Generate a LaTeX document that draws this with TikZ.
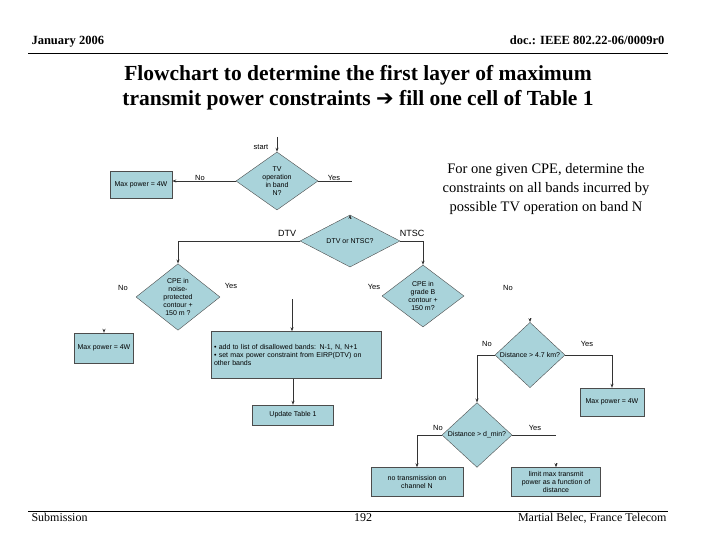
\documentclass[tikz,border=0pt]{standalone}
\usepackage{fontspec}
\setmainfont{Liberation Serif}
\newfontfamily\arial{Liberation Sans}
\newfontfamily\dejavu{DejaVu Sans}
\usetikzlibrary{shapes.geometric,arrows.meta}
\definecolor{fc}{HTML}{A9D3DA}
\tikzset{
  box/.style={draw=black!70,fill=fc,font=\arial\fontsize{7}{8}\selectfont,align=center,inner sep=1pt},
  dia/.style={diamond,draw=black!70,fill=fc,font=\arial\fontsize{7}{8}\selectfont,align=center,inner sep=0pt,aspect=1},
  lbl/.style={font=\arial\fontsize{7.5}{8}\selectfont},
  con/.style={draw=black!80,line width=0.7pt},
  arr/.style={con,-{Stealth[length=4pt,width=3pt]}},
  hd/.style={font=\fontsize{12.5}{14}\selectfont\bfseries}
}
\begin{document}
\begin{tikzpicture}[x=1pt,y=-1pt]
\useasboundingbox (0,0) rectangle (720,540);
% header
\node[hd,anchor=base west] (h1) at (28,45) {January 2006};
\node[hd,anchor=base east] (h2) at (668,45) {doc.: IEEE 802.22-06/0009r0};
\draw[line width=0.6pt] (28,53) -- (668,53);
\node[font=\fontsize{21.5}{25}\selectfont\bfseries,align=center] (title) at (358,88)
  {Flowchart to determine the first layer of maximum\\transmit power constraints {\dejavu\bfseries\fontsize{21}{25}\selectfont ➔} fill one cell of Table 1};
\node[font=\fontsize{14.5}{19}\selectfont,align=center] (note) at (546,189)
  {For one given CPE, determine the\\constraints on all bands incurred by\\possible TV operation on band N};
% footer
\draw[line width=0.6pt] (28,511) -- (668,511);
\node[font=\fontsize{12}{14}\selectfont,anchor=base west] (f1) at (28,521) {Submission};
\node[font=\fontsize{12}{14}\selectfont,anchor=base] (f2) at (363,521) {192};
\node[font=\fontsize{12}{14}\selectfont,anchor=base east] (f3) at (670,521) {Martial Belec, France Telecom};

% flowchart
\node[lbl] (start) at (261,147) {start};
\coordinate (s0) at (277,137);
\node[dia,minimum width=82,minimum height=46] (d1) at (277,181) {TV\\operation\\in band\\N?};
\draw[arr] (s0) -- (d1.north);
\node[box,minimum width=62,minimum height=27] (b1) at (141,185) {Max power = 4W};
\draw[arr] (d1.west) -- (b1.east |- d1.west);
\node[lbl] at (200,178) {No};
\coordinate (y1) at (352,181);
\draw[con] (d1.east) -- (y1);
\node[lbl] at (334,178) {Yes};

\node[dia,minimum width=100,minimum height=36] (d2) at (350,241) {DTV or NTSC?};
\coordinate (d2in) at (350,219);
\draw[arr] (d2in) -- (d2.north);
\node[lbl,font=\arial\fontsize{9}{10}\selectfont] at (287,233) {DTV};
\node[lbl,font=\arial\fontsize{9}{10}\selectfont] at (412,233) {NTSC};

\node[dia,minimum width=84,minimum height=62] (d3) at (178,297) {CPE in\\noise-\\protected\\contour +\\150 m ?};
\node[dia,minimum width=82,minimum height=62] (d4) at (423,296) {CPE in\\grade B\\contour +\\150 m?};
\draw[arr] (d2.west) -- (d3.north |- d2.west) -- (d3.north);
\draw[arr] (d2.east) -- (d4.north |- d2.east) -- (d4.north);
\node[lbl] at (123,288) {No};
\node[lbl] at (231,286) {Yes};
\node[lbl] at (374,287) {Yes};
\node[lbl] at (508,288) {No};

\node[box,minimum width=59,minimum height=30] (b2) at (104,348) {Max power = 4W};
\coordinate (b2in) at (104,330);
\draw[arr] (b2in) -- (b2.north);

\node[box,minimum width=170,minimum height=47,align=left,text width=164] (b3) at (296,355)
  {• add to list of disallowed bands: N-1, N, N+1\\• set max power constraint from EIRP(DTV) on other bands};
\coordinate (b3in) at (292,299);
\draw[arr] (b3in) -- (b3.north -| b3in);
\node[box,minimum width=81,minimum height=20] (b4) at (293,415) {Update Table 1};
\draw[arr] (b3.south -| b4.north) -- (b4.north);

\node[dia,minimum width=70,minimum height=46] (d5) at (530,355) {Distance > 4.7 km?};
\coordinate (d5in) at (530,318);
\draw[arr] (d5in) -- (d5.north);
\node[lbl] at (487,344) {No};
\node[lbl] at (587,344) {Yes};
\node[box,minimum width=64,minimum height=28] (b5) at (612,402) {Max power = 4W};
\draw[arr] (d5.east) -- (b5.north |- d5.east) -- (b5.north);

\node[dia,minimum width=70,minimum height=46] (d6) at (477,435) {Distance > d\_min?};
\draw[arr] (d5.west) -- (d6.north |- d5.west) -- (d6.north);
\node[lbl] at (438,428) {No};
\node[lbl] at (535,428) {Yes};
\node[box,minimum width=92,minimum height=29] (b6) at (417,482) {no transmission on\\channel N};
\draw[arr] (d6.west) -- (b6.north |- d6.west) -- (b6.north);
\coordinate (y6) at (556,435);
\draw[con] (d6.east) -- (y6);
\node[box,minimum width=89,minimum height=29] (b7) at (556,482) {limit max transmit\\power as a function of\\distance};
\coordinate (b7in) at (556,463);
\draw[arr] (b7in) -- (b7.north);
\end{tikzpicture}
\end{document}
